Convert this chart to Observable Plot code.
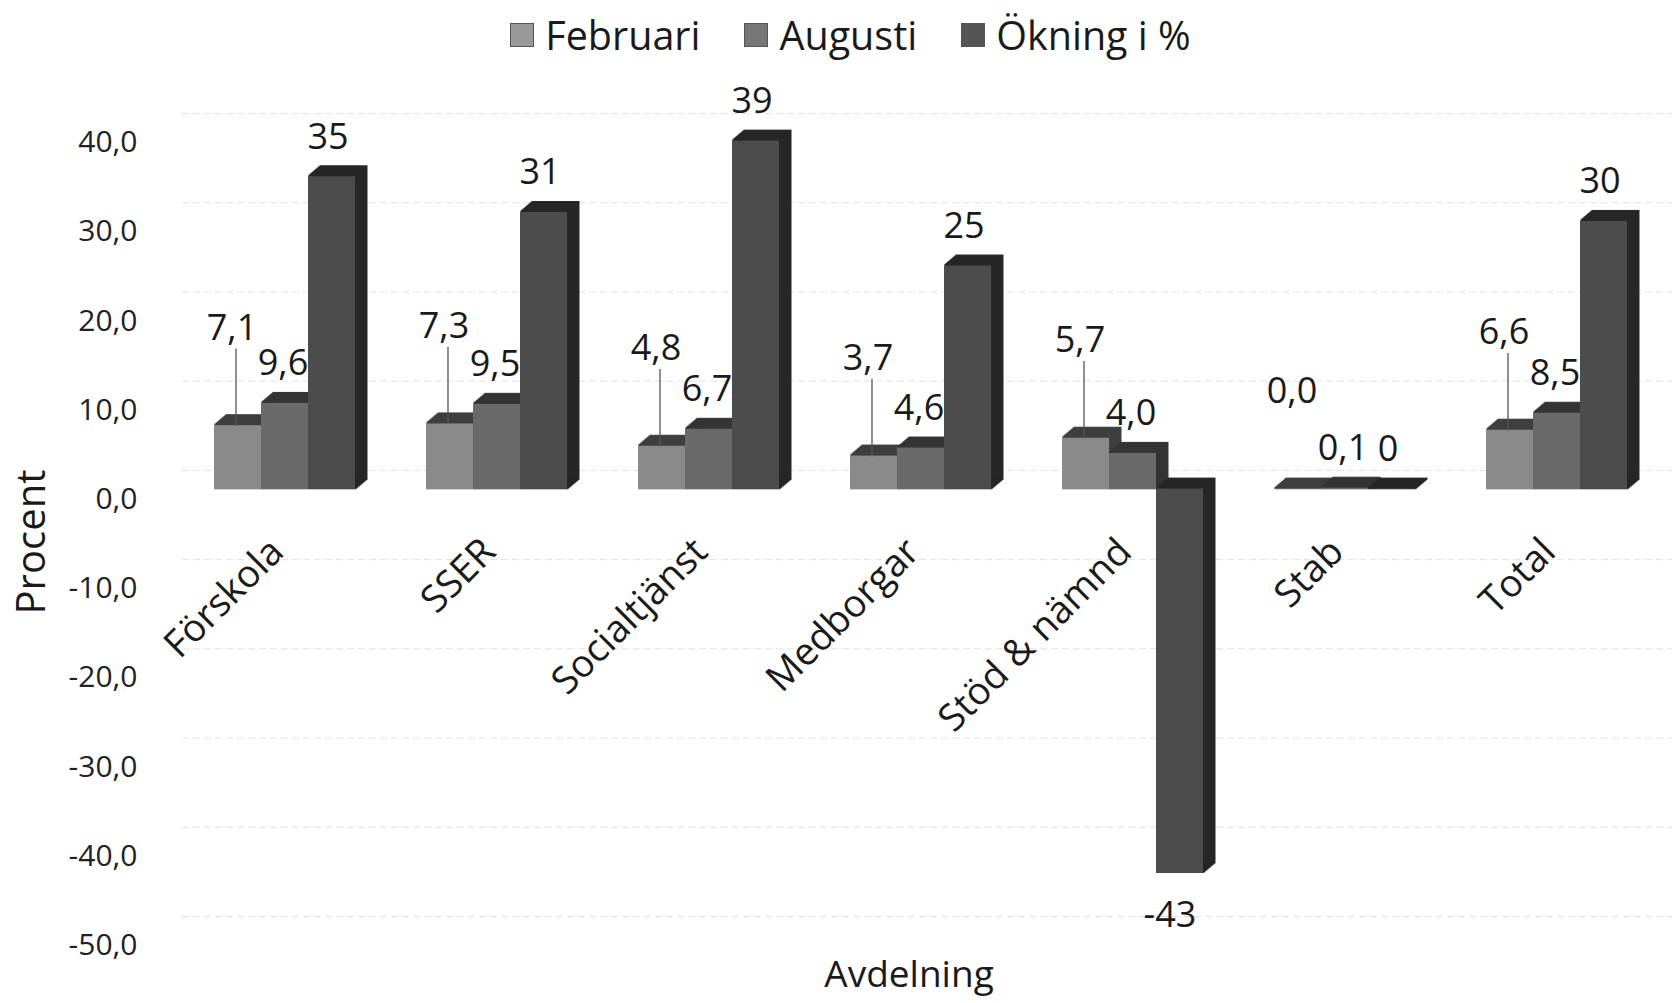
<!DOCTYPE html>
<html><head><meta charset="utf-8">
<script src="https://cdn.jsdelivr.net/npm/d3@7"></script>
<script src="https://cdn.jsdelivr.net/npm/@observablehq/plot@0.6"></script>
<style>
body{margin:0;background:#fff;font-family:"Open Sans",sans-serif;color:#1a1a1a;}
#legend{height:70px;display:flex;align-items:center;justify-content:center;padding-left:26px;font-size:39.5px;}
.item{display:flex;align-items:center;margin:0 22px;}
.sw{width:24px;height:24px;margin-right:11px;border:1px solid #555;box-sizing:border-box;}
#chart svg{display:block;}
</style></head><body>
<div id="legend"></div><div id="chart"></div>
<script>
const categories = ["Förskola","SSER","Socialtjänst","Medborgar","Stöd & nämnd","Stab","Total"];
const seriesNames = ["Februari","Augusti","Ökning i %"];
const februari = [7.1, 7.3, 4.8, 3.7, 5.7, 0.0, 6.6];
const augusti  = [9.6, 9.5, 6.7, 4.6, 4.0, 0.1, 8.5];
const okning   = [35, 31, 39, 25, -43, 0, 30];
const yTicks = [-50, -40, -30, -20, -10, 0, 10, 20, 30, 40];

const frontColors = ["#8a8a8a", "#6a6a6a", "#4c4c4c"];
const depthColors = ["#3e3e3e", "#343434", "#262626"];
const swatchColors = ["#999999", "#777777", "#555555"];

const rows = categories.map((c, i) => ({category: c, feb: februari[i], aug: augusti[i], ok: okning[i]}));
const keys = ["feb", "aug", "ok"];

// legend
const legend = document.getElementById("legend");
seriesNames.forEach((s, i) => {
  const it = document.createElement("div"); it.className = "item";
  const sw = document.createElement("div"); sw.className = "sw"; sw.style.background = swatchColors[i];
  const tx = document.createElement("span"); tx.textContent = s;
  it.append(sw, tx); legend.append(it);
});

const W = 1675, H = 933, ML = 214, MR = 44, MT = 62, MB = 68;
const padInner = 0.337;
const step = (W - ML - MR) / (categories.length - padInner);
const bw = step * (1 - padInner) / 3;
const insets = [[0, 2 * bw], [bw, bw], [2 * bw, 0]];
const centers = [-bw, 0, bw];

const fmt1 = v => v.toFixed(1).replace(".", ",");
const fmt0 = v => String(Math.round(v));

const marks = [];
// back-wall gridlines
marks.push(Plot.ruleY(yTicks, {stroke: "#e2e2e2", strokeDasharray: "7,4", dy: -19, insetLeft: -32, insetRight: -41}));
// 3D extrusion (top + side faces)
keys.forEach((k, s) => {
  for (let d = 1; d <= 12; d++) {
    marks.push(Plot.barY(rows, {x: "category", y: k, fill: depthColors[s], stroke: depthColors[s], strokeWidth: 1,
      insetLeft: insets[s][0], insetRight: insets[s][1], insetTop: -0.6, insetBottom: -0.6, dx: d, dy: -d * 0.85}));
  }
});
// front faces
keys.forEach((k, s) => {
  marks.push(Plot.barY(rows, {x: "category", y: k, fill: frontColors[s],
    insetLeft: insets[s][0], insetRight: insets[s][1], insetTop: -0.3, insetBottom: -0.3}));
});
// leader lines for Februari labels
marks.push(Plot.link(rows.filter(d => d.feb > 0), {x1: "category", x2: "category", y1: "feb", y2: d => d.feb + 8.7,
  stroke: "#555", strokeWidth: 1.3, dx: centers[0] - 2}));
// data labels
const lab = {fontSize: 36, fill: "#1a1a1a", fontFamily: "Open Sans"};
marks.push(Plot.text(rows, {x: "category", y: "feb", text: d => fmt1(d.feb), dx: centers[0] - 6, dy: -98, ...lab}));
marks.push(Plot.text(rows, {x: "category", y: "aug", text: d => fmt1(d.aug), dx: centers[1] - 2, dy: -40, ...lab}));
marks.push(Plot.text(rows.filter(d => d.ok >= 0), {x: "category", y: "ok", text: d => fmt0(d.ok), dx: centers[2] - 4, dy: -40, ...lab}));
marks.push(Plot.text(rows.filter(d => d.ok < 0), {x: "category", y: "ok", text: d => fmt0(d.ok), dx: centers[2] - 10, dy: 42, ...lab}));
// category labels
marks.push(Plot.text(rows, {x: "category", y: d => 0, text: "category", rotate: -45, textAnchor: "end",
  dx: -8, dy: 56, fontSize: 38, fill: "#1a1a1a"}));
// y axis
marks.push(Plot.axisY(yTicks, {tickSize: 0, tickPadding: 77, tickFormat: fmt1, fontSize: 30, dy: 10, fill: "#222"}));
// axis titles
marks.push(Plot.text(["Avdelning"], {frameAnchor: "bottom", lineAnchor: "middle", dy: 40, dx: -14, fontSize: 37, fill: "#1a1a1a"}));
marks.push(Plot.text(["Procent"], {frameAnchor: "left", lineAnchor: "middle", textAnchor: "middle", rotate: -90, dx: -182, dy: 8, fontSize: 40, fill: "#1a1a1a"}));

const chart = Plot.plot({
  width: W, height: H,
  marginLeft: ML, marginRight: MR, marginTop: MT, marginBottom: MB,
  style: {fontFamily: "Open Sans", background: "#fff", color: "#1a1a1a"},
  x: {domain: categories, paddingInner: padInner, paddingOuter: 0, align: 0, axis: null},
  y: {domain: [-50, 40], axis: null},
  marks
});
document.getElementById("chart").append(chart);
</script>
</body></html>
